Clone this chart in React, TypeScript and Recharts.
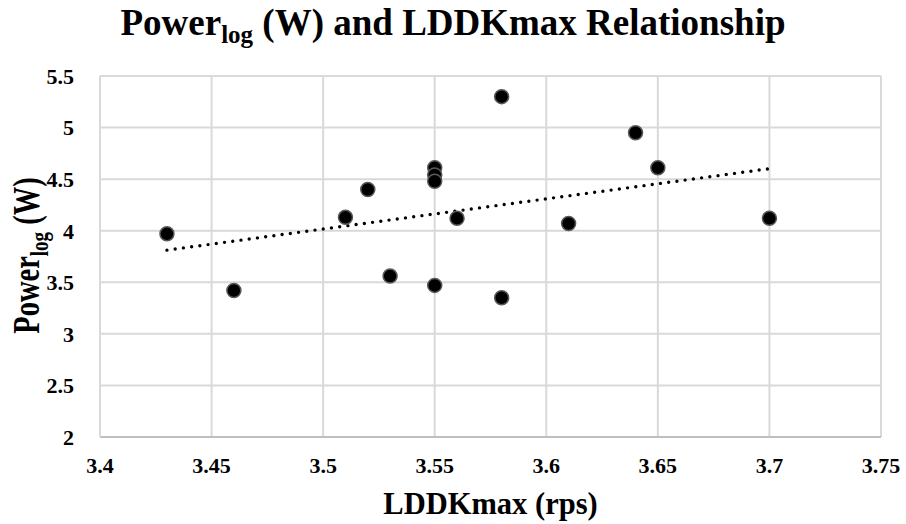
import React from 'react';
import { ScatterChart, Scatter, XAxis, YAxis, CartesianGrid, Label } from 'recharts';

// LDDKmax (rps) readings
const lddkmax = [3.43, 3.46, 3.51, 3.52, 3.53, 3.55, 3.55, 3.55, 3.55, 3.56, 3.58, 3.58, 3.61, 3.64, 3.65, 3.7];
// Power log (W) readings
const powerLog = [3.97, 3.42, 4.13, 4.4, 3.56, 4.61, 4.54, 4.48, 3.47, 4.12, 5.3, 3.35, 4.07, 4.95, 4.61, 4.12];

const xTicks = [3.4, 3.45, 3.5, 3.55, 3.6, 3.65, 3.7, 3.75];
const yTicks = [2, 2.5, 3, 3.5, 4, 4.5, 5, 5.5];

const FONT = '"Liberation Serif", "Times New Roman", serif';

const points = lddkmax.map((x, i) => ({ x, y: powerLog[i] }));

// linear trendline (least squares), drawn between the min and max x
const n = points.length;
const mx = points.reduce((s, p) => s + p.x, 0) / n;
const my = points.reduce((s, p) => s + p.y, 0) / n;
const slope =
  points.reduce((s, p) => s + (p.x - mx) * (p.y - my), 0) /
  points.reduce((s, p) => s + (p.x - mx) ** 2, 0);
const xMin = Math.min(...lddkmax);
const xMax = Math.max(...lddkmax);
const trend = [
  { x: xMin, y: my + slope * (xMin - mx) },
  { x: xMax, y: my + slope * (xMax - mx) },
];

const Dot = (props: any) => {
  const { cx, cy } = props;
  if (cx == null || cy == null) return null;
  return <circle cx={cx} cy={cy} r={7} fill="#000" stroke="#595959" strokeWidth={1.5} />;
};

const YLabel = (props: any) => {
  const { viewBox } = props;
  const cy = viewBox.y + viewBox.height / 2 - 1;
  return (
    <text
      x={0}
      y={0}
      transform={`translate(39, ${cy}) rotate(-90) scale(0.95, 1.25)`}
      textAnchor="middle"
      fontFamily={FONT}
      fontWeight="bold"
      fontSize={30}
      fill="#000"
    >
      Power
      <tspan fontSize={20} dy={7}>log</tspan>
      <tspan dy={-7}> (W)</tspan>
    </text>
  );
};

const App: React.FC = () => {
  return (
    <div style={{ position: 'relative', width: 906, height: 524, background: '#fff' }}>
      <style>{'body{margin:0;}'}</style>
      <div
        style={{
          position: 'absolute',
          top: 1,
          left: 0,
          width: 906,
          textAlign: 'center',
          fontFamily: FONT,
          fontWeight: 'bold',
          fontSize: 37,
          lineHeight: '44px',
          color: '#000',
        }}
      >
        Power<sub style={{ fontSize: 25, verticalAlign: '-8px' }}>log</sub> (W) and LDDKmax Relationship
      </div>
      <ScatterChart width={906} height={524} margin={{ top: 76, right: 25, bottom: 0, left: 0 }}>
        <CartesianGrid stroke="#d9d9d9" strokeWidth={2} horizontal vertical />
        <XAxis
          type="number"
          dataKey="x"
          domain={[3.4, 3.75]}
          ticks={xTicks}
          interval={0}
          allowDataOverflow
          axisLine={{ stroke: '#bfbfbf', strokeWidth: 2 }}
          tickLine={false}
          tickMargin={14}
          tick={{ fill: '#000', fontFamily: FONT, fontWeight: 'bold', fontSize: 22 }}
          height={87}
        >
          <Label
            value="LDDKmax (rps)"
            position="insideBottom"
            offset={10}
            style={{ fill: '#000', fontFamily: FONT, fontWeight: 'bold', fontSize: 30.5 }}
          />
        </XAxis>
        <YAxis
          type="number"
          dataKey="y"
          domain={[2, 5.5]}
          ticks={yTicks}
          interval={0}
          allowDataOverflow
          axisLine={{ stroke: '#d9d9d9', strokeWidth: 2 }}
          tickLine={false}
          tickMargin={20}
          width={100}
          tick={{ fill: '#000', fontFamily: FONT, fontWeight: 'bold', fontSize: 22 }}
        >
          <Label content={<YLabel />} />
        </YAxis>
        <Scatter
          data={trend}
          line={{ stroke: '#000', strokeWidth: 3.4, strokeDasharray: '0 8.3', strokeLinecap: 'round' }}
          shape={() => null}
          isAnimationActive={false}
          legendType="none"
        />
        <Scatter data={points} shape={<Dot />} isAnimationActive={false} />
      </ScatterChart>
    </div>
  );
};

export default App;
